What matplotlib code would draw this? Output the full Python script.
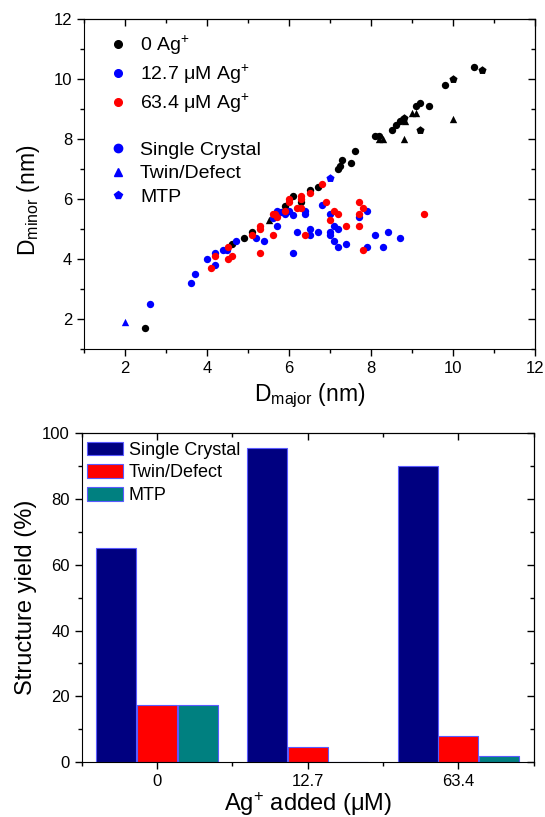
import numpy as np
import matplotlib
matplotlib.use("Agg")
import matplotlib.pyplot as plt
from matplotlib.lines import Line2D
from matplotlib.ticker import MultipleLocator

plt.rcParams['font.family'] = ['Liberation Sans', 'DejaVu Sans']
plt.rcParams['mathtext.default'] = 'regular'

# ---- scatter data: D_major / D_minor (nm) ----
# 0 Ag+ (black)
ag0_sc_x = [2.5, 4.6, 4.9, 5.1, 5.9, 6.1, 6.3, 6.5, 6.7, 7.2, 7.25, 7.3, 7.5, 7.6,
            8.1, 8.2, 8.5, 8.6, 8.7, 9.1, 9.2, 9.4, 9.8, 10.5]
ag0_sc_y = [1.7, 4.5, 4.7, 4.9, 5.75, 6.1, 5.9, 6.3, 6.4, 7.0, 7.1, 7.3, 7.2, 7.6,
            8.1, 8.1, 8.3, 8.45, 8.6, 9.1, 9.2, 9.1, 9.8, 10.4]
ag0_tw_x = [5.5, 8.2, 8.3, 8.8, 8.83, 9.0, 9.1, 10.0]
ag0_tw_y = [5.3, 8.0, 8.0, 8.0, 8.6, 8.85, 8.85, 8.65]
ag0_mtp_x = [8.8, 9.2, 10.0, 10.7]
ag0_mtp_y = [8.7, 8.3, 10.0, 10.3]

# 12.7 uM Ag+ (blue)
ag12_sc_x = [2.6, 3.6, 3.7, 4.0, 4.2, 4.2, 4.4, 4.48, 4.7, 5.2, 5.4, 5.6, 5.7, 5.7,
             5.8, 5.9, 6.0, 6.1, 6.1, 6.2, 6.4, 6.4, 6.5, 6.5, 6.7, 6.8, 7.0, 7.0,
             7.0, 7.1, 7.2, 7.1, 7.2, 7.4, 7.7, 7.9, 7.9, 8.1, 8.3, 8.4, 8.7]
ag12_sc_y = [2.5, 3.2, 3.5, 4.0, 3.8, 4.2, 4.3, 4.3, 4.6, 4.7, 4.6, 5.35, 5.6, 5.1,
             5.55, 5.5, 5.6, 5.45, 4.2, 4.9, 5.6, 5.5, 5.0, 4.8, 4.9, 5.8, 5.5, 4.9,
             4.8, 5.1, 5.0, 4.6, 4.4, 4.5, 5.4, 5.6, 4.4, 4.8, 4.4, 4.9, 4.7]
ag12_tw_x = [2.0]
ag12_tw_y = [1.9]
ag12_mtp_x = [7.0]
ag12_mtp_y = [6.7]

# 63.4 uM Ag+ (red)
ag63_sc_x = [4.1, 4.2, 4.5, 4.6, 4.5, 5.1, 5.3, 5.3, 5.3, 5.6, 5.6, 5.7, 5.65, 5.9,
             6.0, 6.0, 6.2, 6.3, 6.3, 6.3, 6.4, 6.5, 6.8, 6.9, 7.0, 7.1, 7.2, 7.4,
             7.7, 7.8, 7.7, 7.7, 7.8, 9.3]
ag63_sc_y = [3.7, 4.1, 4.0, 4.1, 4.4, 4.8, 5.1, 5.0, 4.2, 4.8, 5.5, 5.4, 5.5, 5.6,
             6.0, 5.9, 5.7, 5.7, 6.1, 6.0, 4.8, 6.2, 6.5, 5.9, 5.3, 5.6, 5.5, 5.1,
             5.9, 5.7, 5.5, 5.1, 4.3, 5.5]

# ---- bar data: structure yield (%) ----
ag_added = ['0', '12.7', '63.4']
single_crystal = [65, 95.5, 90]
twin_defect = [17.5, 4.5, 8]
mtp = [17.5, 0, 2]


def mirror_ticks(ax, xmaj, xmin, ymaj, ymin):
    # Origin style: ticks out on left/bottom, in on top/right
    ax.tick_params(which='both', direction='out', labelsize=12)
    ax.tick_params(which='major', length=5, width=1)
    ax.tick_params(which='minor', length=3, width=1)
    top = ax.secondary_xaxis('top')
    right = ax.secondary_yaxis('right')
    for sec, axis, maj, mnr in [(top, top.xaxis, xmaj, xmin),
                                (right, right.yaxis, ymaj, ymin)]:
        axis.set_major_locator(maj)
        axis.set_minor_locator(mnr)
        sec.tick_params(which='both', direction='in', labeltop=False,
                        labelright=False)
        sec.tick_params(which='major', length=5, width=1)
        sec.tick_params(which='minor', length=3, width=1)


fig = plt.figure(figsize=(5.45, 8.17), dpi=100)

# ================= top: scatter =================
ax1 = fig.add_axes([0.154, 0.573, 0.828, 0.404])
ms = 28
groups = [
    (ag0_sc_x, ag0_sc_y, 'black', 'o'), (ag0_tw_x, ag0_tw_y, 'black', '^'),
    (ag0_mtp_x, ag0_mtp_y, 'black', 'p'),
    (ag12_sc_x, ag12_sc_y, 'blue', 'o'), (ag12_tw_x, ag12_tw_y, 'blue', '^'),
    (ag12_mtp_x, ag12_mtp_y, 'blue', 'p'),
    (ag63_sc_x, ag63_sc_y, 'red', 'o'),
]
for gx, gy, col, mk in groups:
    size = ms * 1.35 if mk == 'p' else ms
    ax1.scatter(gx, gy, s=size, c=col, marker=mk, linewidths=0, zorder=3)

ax1.set_xlim(1, 12)
ax1.set_ylim(1, 12)
ax1.xaxis.set_major_locator(MultipleLocator(2))
ax1.xaxis.set_minor_locator(MultipleLocator(1))
ax1.yaxis.set_major_locator(MultipleLocator(2))
ax1.yaxis.set_minor_locator(MultipleLocator(1))
mirror_ticks(ax1, MultipleLocator(2), MultipleLocator(1),
             MultipleLocator(2), MultipleLocator(1))
ax1.set_xlabel('D$_{major}$ (nm)', fontsize=16.5, labelpad=4)
ax1.set_ylabel('D$_{minor}$ (nm)', fontsize=16.5, labelpad=8)
ax1.yaxis.label.set_y(0.45)

h_ag = [Line2D([], [], ls='none', marker='o', color=c, markersize=5.5)
        for c in ['black', 'blue', 'red']]
leg1 = ax1.legend(h_ag, ['0 Ag$^{+}$', '12.7 μM Ag$^{+}$', '63.4 μM Ag$^{+}$'],
                  loc='upper left', bbox_to_anchor=(0.028, 0.978), borderaxespad=0,
                  frameon=False, fontsize=14, handlelength=1.4, handletextpad=0.43,
                  labelspacing=0.3)
ax1.add_artist(leg1)
h_st = [Line2D([], [], ls='none', marker=m, color='blue', markersize=6)
        for m in ['o', '^', 'p']]
ax1.legend(h_st, ['Single Crystal', 'Twin/Defect', 'MTP'],
           loc='upper left', bbox_to_anchor=(0.028, 0.652), borderaxespad=0,
           frameon=False, fontsize=14, handlelength=1.4, handletextpad=0.43,
           labelspacing=0.3)

# ================= bottom: bars =================
ax2 = fig.add_axes([0.150, 0.067, 0.829, 0.403])
pos = np.arange(len(ag_added))
w = 0.265
off = 0.27
edge = '#5a5aff'
ax2.bar(pos - off, single_crystal, w, color='#000080', edgecolor=edge, lw=0.8,
        label='Single Crystal')
ax2.bar(pos, twin_defect, w, color='#ff0000', edgecolor=edge, lw=0.8,
        label='Twin/Defect')
ax2.bar(pos + off, mtp, w, color='#008080', edgecolor=edge, lw=0.8, label='MTP')

ax2.set_xlim(-0.5, 2.5)
ax2.set_ylim(0, 100)
ax2.set_xticks(pos)
ax2.set_xticklabels(ag_added)
ax2.xaxis.set_minor_locator(MultipleLocator(1, offset=0.5))
ax2.yaxis.set_major_locator(MultipleLocator(20))
ax2.yaxis.set_minor_locator(MultipleLocator(10))
mirror_ticks(ax2, MultipleLocator(1), MultipleLocator(1, offset=0.5),
             MultipleLocator(20), MultipleLocator(10))

ax2.set_xlabel('Ag$^{+}$ added (μM)', fontsize=17, labelpad=1)
ax2.set_ylabel('Structure yield (%)', fontsize=17, labelpad=4)
ax2.legend(loc='upper left', bbox_to_anchor=(0.003, 0.985), borderaxespad=0,
           borderpad=0.2, frameon=False, fontsize=13, handlelength=2.0,
           handleheight=0.78, handletextpad=0.33, labelspacing=0.32)

fig.savefig('out.png', dpi=100)
